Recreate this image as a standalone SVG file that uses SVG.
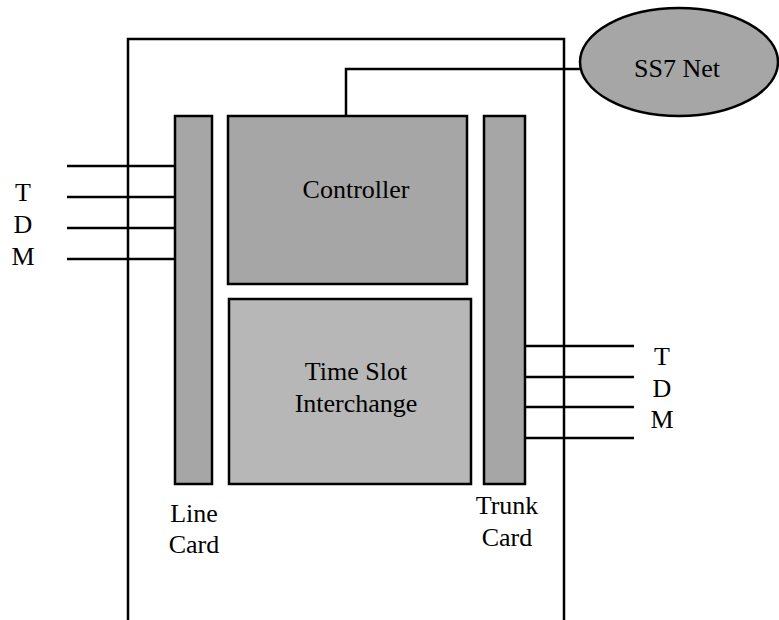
<svg xmlns="http://www.w3.org/2000/svg" width="779" height="620" viewBox="0 0 779 620">
<style>
text{font-family:'Liberation Serif','Times New Roman',Times,'DejaVu Serif','Noto Serif',serif;font-size:26px;fill:#000;text-anchor:middle}
.card{fill:#a6a6a6;stroke:#000;stroke-width:2.5}
.tsi{fill:#b7b7b7;stroke:#000;stroke-width:2.5}
.ln{fill:none;stroke:#000;stroke-width:2.5}
</style>
<rect width="779" height="620" fill="#fff"/>
<g id="outer-box">
<path class="ln" d="M128,620 V39 H564 V620"/>
</g>
<g id="connectors">
<path class="ln" d="M346,116 V69 H580"/>
<path class="ln" d="M67,166 H175 M67,197 H175 M67,228 H175 M67,259 H175"/>
<path class="ln" d="M525,346 H634 M525,377 H634 M525,407 H634 M525,438 H634"/>
</g>
<g id="ss7">
<ellipse cx="679" cy="62" rx="99" ry="54" class="card"/>
<text x="677" y="77">SS7 Net</text>
</g>
<g id="line-card">
<rect x="175" y="116" width="37" height="368" class="card"/>
<text x="194" y="522">Line</text>
<text x="194" y="553">Card</text>
</g>
<g id="controller">
<rect x="228" y="116" width="239" height="168" class="card"/>
<text x="356" y="198">Controller</text>
</g>
<g id="tsi">
<rect x="229" y="299" width="242" height="185" class="tsi"/>
<text x="356" y="380">Time Slot</text>
<text x="356" y="412">Interchange</text>
</g>
<g id="trunk-card">
<rect x="484" y="116" width="41" height="368" class="card"/>
<text x="507" y="514">Trunk</text>
<text x="507" y="546">Card</text>
</g>
<g id="tdm-left">
<text x="23" y="201">T</text>
<text x="23" y="233">D</text>
<text x="23" y="265">M</text>
</g>
<g id="tdm-right">
<text x="662" y="365">T</text>
<text x="662" y="397">D</text>
<text x="662" y="428">M</text>
</g>
</svg>
